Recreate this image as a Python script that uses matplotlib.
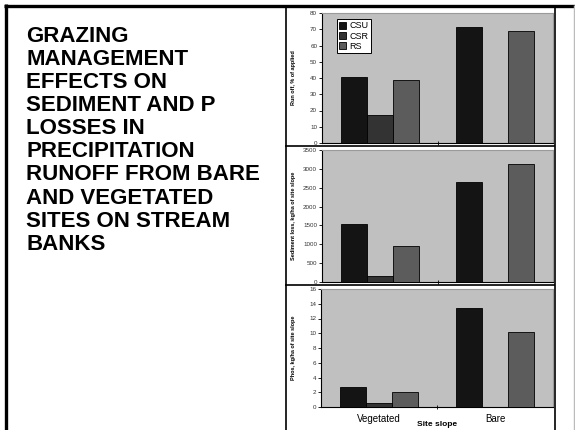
import matplotlib
matplotlib.use("Agg")
import matplotlib.pyplot as plt
from matplotlib.lines import Line2D
import numpy as np

plt.rcParams['font.family'] = ['Liberation Sans', 'DejaVu Sans']

categories = ['Vegetated', 'Bare']
series = ['CSU', 'CSR', 'RS']
runoff = {'CSU': [40.5, 71.5], 'CSR': [17, 0], 'RS': [39, 69]}
sediment = {'CSU': [1525, 2660], 'CSR': [150, 0], 'RS': [950, 3130]}
phos = {'CSU': [2.75, 13.4], 'CSR': [0.5, 0], 'RS': [2.1, 10.15]}
ylabels = ['Run off, % of applied', 'Sediment loss, kg/ha of site slope',
           'Phos, kg/ha of site slope']
yticks = [np.arange(0, 81, 10), np.arange(0, 3501, 500), np.arange(0, 17, 2)]
title_lines = ['GRAZING', 'MANAGEMENT', 'EFFECTS ON', 'SEDIMENT AND P', 'LOSSES IN',
               'PRECIPITATION', 'RUNOFF FROM BARE', 'AND VEGETATED',
               'SITES ON STREAM', 'BANKS']
xlabel = 'Site slope'

colors = {'CSU': '#141414', 'CSR': '#333333', 'RS': '#5c5c5c'}
W, H = 575, 430
fig = plt.figure(figsize=(W / 100, H / 100), dpi=100)
fig.patch.set_facecolor('white')

def fx(px):
    return px / W

def fy(py):
    return 1 - py / H

def line(x0, y0, x1, y1, lw, color='black'):
    fig.add_artist(Line2D([fx(x0), fx(x1)], [fy(y0), fy(y1)], lw=lw, color=color,
                          transform=fig.transFigure, solid_capstyle='butt'))

line(4, 5.5, 575, 5.5, 2.4)
line(6, 4, 6, 430, 2.4)
line(285.5, 5, 285.5, 430, 1.2)
line(555, 5, 555, 430, 1.2)
line(574, 5, 574, 430, 1.0, '#bbbbbb')
line(285, 145.5, 555, 145.5, 1.2)
line(285, 285, 555, 285, 1.2)

fig.text(fx(26), fy(26), '\n'.join(title_lines), fontsize=16, fontweight='bold',
         va='top', ha='left', linespacing=1.13, color='black')

boxes = [(322, 13, 553, 143), (322, 150, 553, 282), (321, 289, 553, 407)]
datasets = [runoff, sediment, phos]
width = 0.225
x = np.arange(len(categories))
axes = []
for k, (box, data) in enumerate(zip(boxes, datasets)):
    l, t, r, b = box
    ax = fig.add_axes([fx(l), fy(b), fx(r) - fx(l), (b - t) / H])
    ax.set_facecolor('#c0c0c0')
    for j, s in enumerate(series):
        ax.bar(x + (j - 1) * width, data[s], width, color=colors[s],
               edgecolor='black', linewidth=0.6, label=s, zorder=3)
    ax.set_xlim(-0.5, 1.5)
    yt = yticks[k]
    ax.set_ylim(yt[0], yt[-1])
    ax.set_yticks(yt)
    ax.tick_params(axis='y', labelsize=4.5, labelcolor='#333333', length=2,
                   width=0.6, pad=1.5)
    ax.set_xticks([0.5], minor=True)
    ax.tick_params(axis='x', which='minor', length=2.5, width=0.6, direction='inout')
    if k == 2:
        ax.set_xticks(x)
        ax.set_xticklabels(categories, fontsize=7)
        ax.tick_params(axis='x', which='major', length=0, pad=5)
    else:
        ax.set_xticks([])
    for side in ['top', 'right']:
        ax.spines[side].set_color('#9a9a9a')
        ax.spines[side].set_linewidth(0.8)
    for side in ['left', 'bottom']:
        ax.spines[side].set_color('black')
        ax.spines[side].set_linewidth(0.8)
    fig.text(fx(293), fy((t + b) / 2), ylabels[k], rotation=90, fontsize=4,
             fontweight='bold', ha='center', va='center')
    axes.append(ax)

leg = axes[0].legend(loc='upper left', fontsize=6.5, frameon=True,
                     fancybox=False, edgecolor='black', framealpha=1,
                     handlelength=0.8, handleheight=0.8, handletextpad=0.3,
                     borderpad=0.25, labelspacing=0.15, borderaxespad=0,
                     bbox_to_anchor=((337 - 322) / 231, 1 - (19 - 13) / 130),
                     bbox_transform=axes[0].transAxes)
leg.get_frame().set_linewidth(0.7)

fig.text(fx(437), fy(421), xlabel, fontsize=6, fontweight='bold', ha='center', va='top')

fig.savefig('out.png', dpi=100)
